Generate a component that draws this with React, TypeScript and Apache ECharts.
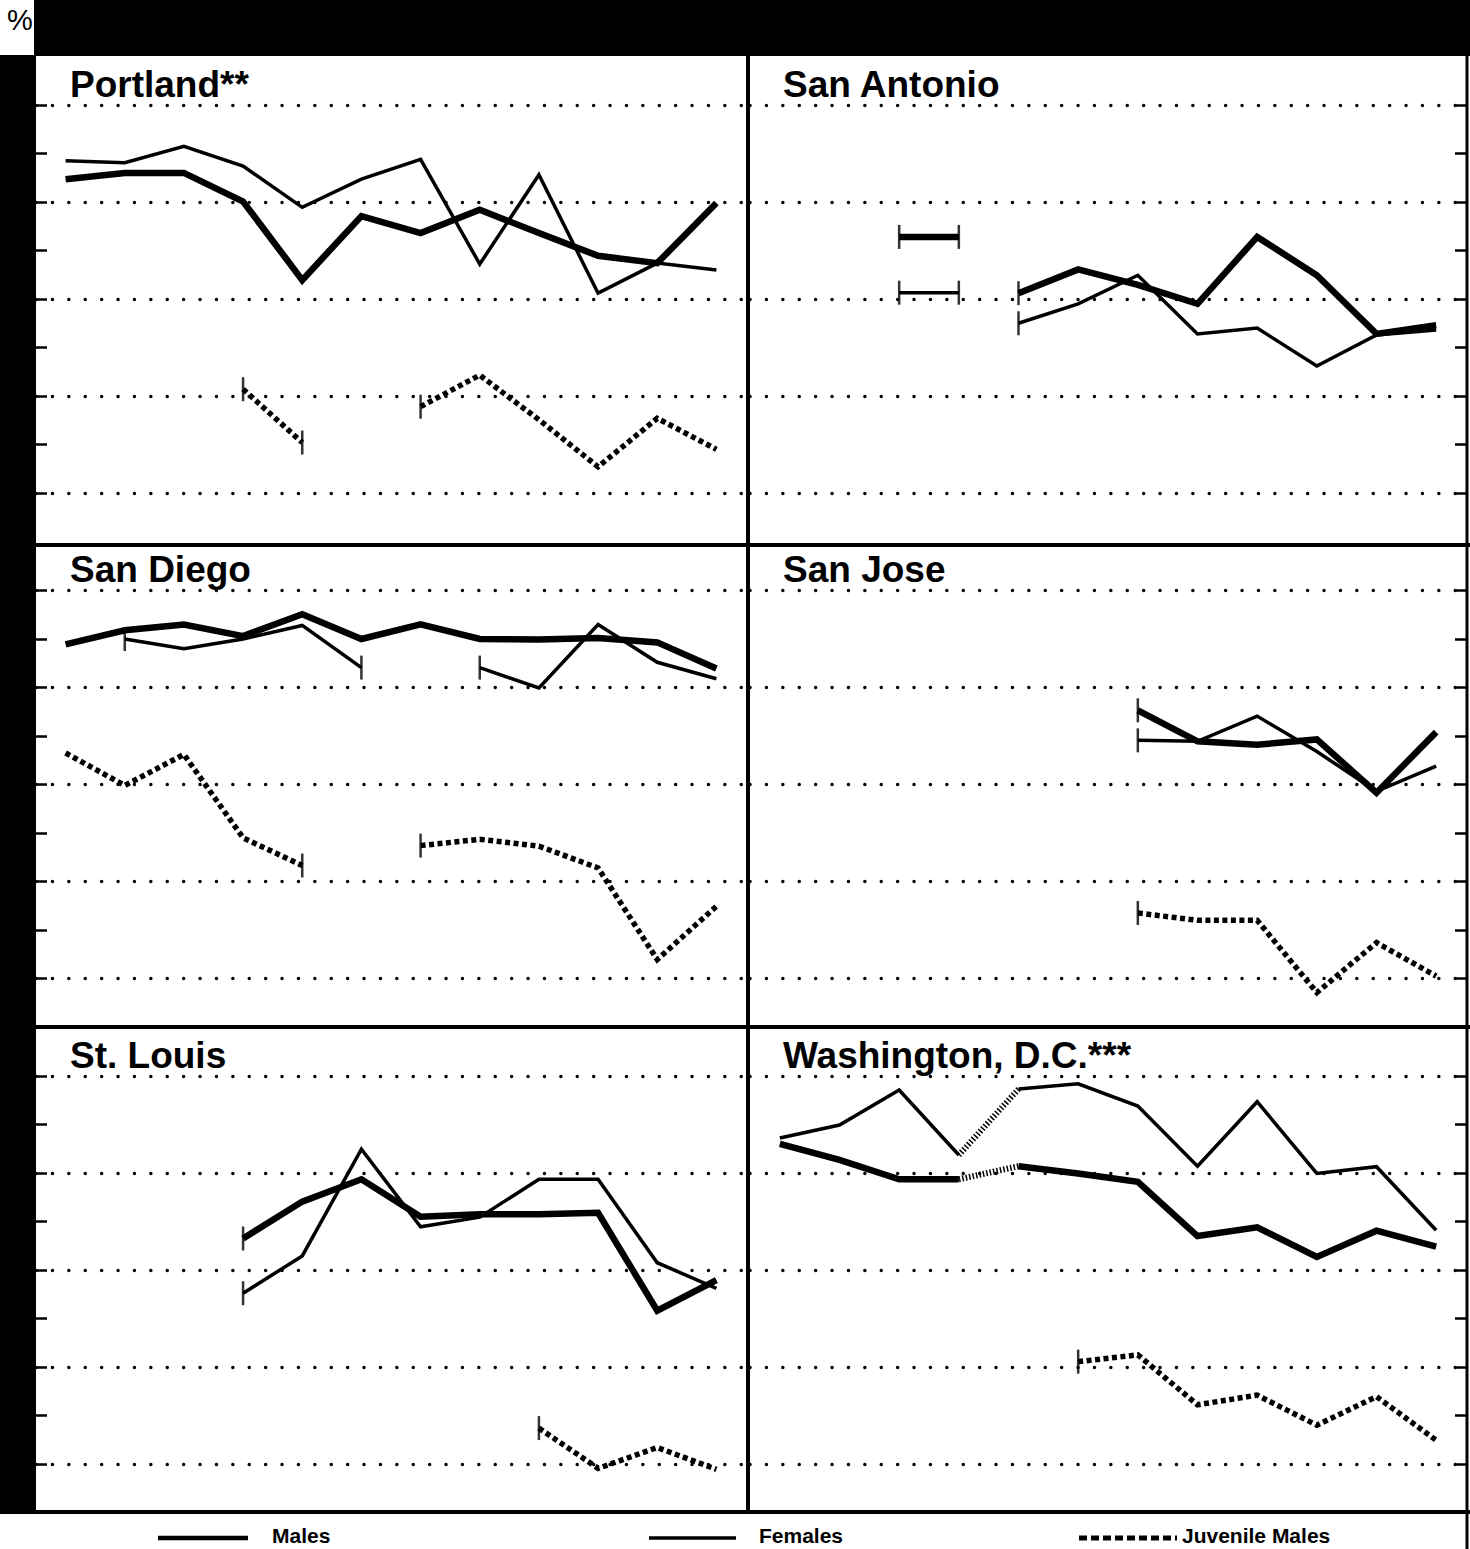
import React, { useEffect, useRef } from 'react';
import * as echarts from 'echarts';

// Twelve reporting periods per panel (labels are not printed on the chart)
const periods = ['1', '2', '3', '4', '5', '6', '7', '8', '9', '10', '11', '12'];
// Percent scale: dotted guide lines and edge ticks
const gridValues = [10, 30, 50, 70, 90];
const tickValues = [10, 20, 30, 40, 50, 60, 70, 80, 90];

type V = number | null;
const _ = null;

const portlandMales: V[] = [74.7, 76.0, 76.0, 70.1, 53.9, 67.1, 63.6, 68.4, 63.6, 58.9, 57.4, 69.8];
const portlandFemales: V[] = [78.5, 78.1, 81.5, 77.4, 68.9, 74.7, 78.8, 57.2, 75.6, 51.2, 57.4, 56.0];
const portlandJuveniles: V[] = [_, _, _, 31.4, 20.4, _, 27.8, 34.3, 25.1, 15.4, 25.4, 19.0];

const sanAntonioMalesEarly: V[] = [_, _, 62.8, 62.8, _, _, _, _, _, _, _, _];
const sanAntonioFemalesEarly: V[] = [_, _, 51.3, 51.3, _, _, _, _, _, _, _, _];
const sanAntonioMales: V[] = [_, _, _, _, 51.2, 56.1, 52.9, 49.0, 62.8, 54.9, 42.8, 44.6];
const sanAntonioFemales: V[] = [_, _, _, _, 45.0, 49.0, 54.9, 42.8, 44.0, 36.2, 42.6, 43.6];

const sanDiegoMales: V[] = [78.9, 81.8, 83.0, 80.6, 85.1, 80.0, 83.0, 80.0, 79.9, 80.2, 79.3, 73.9];
const sanDiegoFemales: V[] = [_, 80.0, 78.0, 80.0, 82.8, 74.1, _, 74.1, 69.9, 83.0, 75.2, 71.8];
const sanDiegoJuveniles: V[] = [56.5, 49.8, 56.2, 39.0, 33.3, _, 37.4, 38.7, 37.3, 32.8, 13.9, 24.9];

const sanJoseMales: V[] = [_, _, _, _, _, _, 65.3, 58.9, 58.2, 59.3, 48.3, 60.8];
const sanJoseFemales: V[] = [_, _, _, _, _, _, 59.1, 58.9, 64.1, 56.8, 48.6, 53.8];
const sanJoseJuveniles: V[] = [_, _, _, _, _, _, 23.5, 22.0, 22.0, 7.1, 17.4, 10.5];

const stLouisMales: V[] = [_, _, _, 56.5, 64.1, 68.7, 61.0, 61.5, 61.5, 61.8, 41.6, 47.9];
const stLouisFemales: V[] = [_, _, _, 45.2, 52.9, 74.9, 58.9, 60.9, 68.7, 68.7, 51.5, 46.2];
const stLouisJuveniles: V[] = [_, _, _, _, _, _, _, _, 17.4, 9.1, 13.4, 8.9];

const washingtonMales: V[] = [76.0, 72.7, 68.7, 68.7, 71.4, 69.9, 68.2, 57.0, 58.8, 52.7, 58.1, 54.8];
const washingtonFemales: V[] = [77.2, 79.9, 87.1, 73.7, 87.3, 88.4, 83.8, 71.4, 84.7, 69.9, 71.3, 58.2];
const washingtonJuveniles: V[] = [_, _, _, _, _, 31.1, 32.5, 22.2, 24.2, 18.0, 23.9, 14.9];
// The step from period 4 to period 5 is drawn hatched
const washingtonHatchAfter = 3;

type Kind = 'male' | 'female' | 'juvenile';
interface Run { kind: Kind; values: V[]; hatchAfter?: number }
interface Panel { title: string; runs: Run[] }

const panels: Panel[] = [
  { title: 'Portland**', runs: [
    { kind: 'male', values: portlandMales },
    { kind: 'female', values: portlandFemales },
    { kind: 'juvenile', values: portlandJuveniles },
  ] },
  { title: 'San Antonio', runs: [
    { kind: 'male', values: sanAntonioMalesEarly },
    { kind: 'female', values: sanAntonioFemalesEarly },
    { kind: 'male', values: sanAntonioMales },
    { kind: 'female', values: sanAntonioFemales },
  ] },
  { title: 'San Diego', runs: [
    { kind: 'male', values: sanDiegoMales },
    { kind: 'female', values: sanDiegoFemales },
    { kind: 'juvenile', values: sanDiegoJuveniles },
  ] },
  { title: 'San Jose', runs: [
    { kind: 'male', values: sanJoseMales },
    { kind: 'female', values: sanJoseFemales },
    { kind: 'juvenile', values: sanJoseJuveniles },
  ] },
  { title: 'St. Louis', runs: [
    { kind: 'male', values: stLouisMales },
    { kind: 'female', values: stLouisFemales },
    { kind: 'juvenile', values: stLouisJuveniles },
  ] },
  { title: 'Washington, D.C.***', runs: [
    { kind: 'male', values: washingtonMales, hatchAfter: washingtonHatchAfter },
    { kind: 'female', values: washingtonFemales, hatchAfter: washingtonHatchAfter },
    { kind: 'juvenile', values: washingtonJuveniles },
  ] },
];

const legendItems: { kind: Kind; label: string }[] = [
  { kind: 'male', label: 'Males' },
  { kind: 'female', label: 'Females' },
  { kind: 'juvenile', label: 'Juvenile Males' },
];

// ---- layout & styling ----
const W = 1470;
const H = 1549;
const COL_LEFT = [36, 750];
const COL_WIDTH = [710, 716];
const ROW_TOP = [56.5, 542, 1027.5];
const ROW_HEIGHT = 485;
const TITLE_X = [70, 783];
const TITLE_DY = 27.5;
const FONT = '"Liberation Sans", Arial, Helvetica, sans-serif';
const INK = '#000';

const lineStyles: Record<Kind, any> = {
  male: { color: INK, width: 6.5, type: 'solid', join: 'miter', cap: 'butt' },
  female: { color: INK, width: 3.5, type: 'solid', join: 'miter', cap: 'butt' },
  juvenile: { color: INK, width: 5.5, type: [5, 3.5], join: 'miter', cap: 'butt' },
};
const hatchStyle = { color: INK, width: 6, type: [1.5, 2], cap: 'butt' };

// End points of a broken run get a small vertical tick
function breakEnds(vals: V[]): [number, number][] {
  const out: [number, number][] = [];
  vals.forEach((v, i) => {
    if (v == null) return;
    const leftGap = i > 0 && vals[i - 1] == null;
    const rightGap = i < vals.length - 1 && vals[i + 1] == null;
    if (leftGap || rightGap) out.push([i, v]);
  });
  return out;
}

function buildOption() {
  const grid = panels.map((_p, i) => ({
    left: COL_LEFT[i % 2],
    width: COL_WIDTH[i % 2],
    top: ROW_TOP[Math.floor(i / 2)],
    height: ROW_HEIGHT,
    containLabel: false,
    outerBoundsMode: 'none',
  }));

  const xAxis = panels.map((_p, i) => ({
    type: 'category',
    gridIndex: i,
    data: periods,
    boundaryGap: true,
    axisLine: { show: false },
    axisTick: { show: false },
    axisLabel: { show: false },
    splitLine: { show: false },
  }));

  const yAxis = panels.map((_p, i) => ({
    type: 'value',
    gridIndex: i,
    min: 0,
    max: 100,
    interval: 10,
    position: i % 2 === 0 ? 'left' : 'right',
    axisLine: { show: false },
    axisLabel: { show: false },
    splitLine: { show: false },
    axisTick: {
      show: true,
      inside: true,
      length: 11,
      customValues: tickValues,
      lineStyle: { color: INK, width: 2.5 },
    },
  }));

  const series: any[] = [];
  panels.forEach((p, i) => {
    const axes = { xAxisIndex: i, yAxisIndex: i };
    // dotted guide lines
    series.push({
      type: 'line',
      ...axes,
      name: 'guides-' + i,
      data: periods.map(() => null),
      symbol: 'none',
      silent: true,
      lineStyle: { opacity: 0 },
      markLine: {
        silent: true,
        symbol: ['none', 'none'],
        label: { show: false },
        emphasis: { disabled: true },
        lineStyle: { color: INK, width: 3.4, type: [0.1, 16.3], cap: 'round' },
        data: gridValues.map((v) => ({ yAxis: v })),
      },
    });

    p.runs.forEach((run, r) => {
      const base = {
        type: 'line',
        ...axes,
        symbol: 'none',
        silent: true,
        connectNulls: false,
        lineStyle: lineStyles[run.kind],
        z: run.kind === 'male' ? 4 : 3,
      };
      if (run.hatchAfter != null) {
        const k = run.hatchAfter;
        series.push({ ...base, name: `${run.kind}-${i}-${r}a`, data: run.values.map((v, j) => (j <= k ? v : null)) });
        series.push({ ...base, name: `${run.kind}-${i}-${r}b`, data: run.values.map((v, j) => (j >= k + 1 ? v : null)) });
        series.push({
          ...base,
          name: `${run.kind}-${i}-${r}h`,
          lineStyle: hatchStyle,
          data: run.values.map((v, j) => (j === k || j === k + 1 ? v : null)),
        });
      } else {
        series.push({ ...base, name: `${run.kind}-${i}-${r}`, data: run.values });
      }
      const ends = breakEnds(run.values);
      if (ends.length) {
        series.push({
          type: 'scatter',
          ...axes,
          name: `ends-${i}-${r}`,
          silent: true,
          symbol: 'rect',
          symbolSize: [2.5, 24],
          itemStyle: { color: INK },
          z: 5,
          data: ends,
        });
      }
    });
  });

  const frame: any[] = [
    { type: 'rect', shape: { x: 0, y: 0, width: W, height: 56 }, style: { fill: INK } },
    { type: 'rect', shape: { x: 0, y: 0, width: 34, height: 55 }, style: { fill: '#fff' } },
    {
      type: 'text',
      style: { text: '%', x: 20, y: 20, fill: INK, align: 'center', verticalAlign: 'middle', font: `29px ${FONT}` },
    },
    { type: 'rect', shape: { x: 0, y: 56, width: 36, height: 1456 }, style: { fill: INK } },
    { type: 'rect', shape: { x: 746, y: 56, width: 4, height: 1456 }, style: { fill: INK } },
    { type: 'rect', shape: { x: 0, y: 543, width: W, height: 4 }, style: { fill: INK } },
    { type: 'rect', shape: { x: 0, y: 1025, width: W, height: 4 }, style: { fill: INK } },
    { type: 'rect', shape: { x: 0, y: 1510, width: W, height: 4 }, style: { fill: INK } },
    { type: 'rect', shape: { x: 1465.5, y: 56, width: 3, height: H - 56 }, style: { fill: INK } },
  ];

  const titles = panels.map((p, i) => ({
    type: 'text',
    style: {
      text: p.title,
      x: TITLE_X[i % 2],
      y: ROW_TOP[Math.floor(i / 2)] + TITLE_DY,
      fill: INK,
      align: 'left',
      verticalAlign: 'middle',
      font: `bold 37px ${FONT}`,
    },
  }));

  const legendPos = [
    { x1: 158, x2: 248, tx: 272 },
    { x1: 649, x2: 736, tx: 759 },
    { x1: 1079, x2: 1177, tx: 1182 },
  ];
  const legendY = 1535;
  const legendLine: Record<Kind, any> = {
    male: { stroke: INK, lineWidth: 4.5 },
    female: { stroke: INK, lineWidth: 3.5 },
    juvenile: { stroke: INK, lineWidth: 5, lineDash: [8, 4] },
  };
  const legend: any[] = [];
  legendItems.forEach((item, i) => {
    const pos = legendPos[i];
    legend.push({
      type: 'line',
      shape: { x1: pos.x1, y1: legendY + 3, x2: pos.x2, y2: legendY + 3 },
      style: legendLine[item.kind],
    });
    legend.push({
      type: 'text',
      style: {
        text: item.label,
        x: pos.tx,
        y: legendY,
        fill: INK,
        align: 'left',
        verticalAlign: 'middle',
        font: `bold 21px ${FONT}`,
      },
    });
  });

  return {
    animation: false,
    backgroundColor: '#fff',
    grid,
    xAxis,
    yAxis,
    series,
    graphic: [
      ...frame.map((g) => ({ ...g, z: 20, silent: true })),
      ...titles.map((g) => ({ ...g, z: 21, silent: true })),
      ...legend.map((g) => ({ ...g, z: 21, silent: true })),
    ],
  };
}

export default function App() {
  const ref = useRef<HTMLDivElement>(null);
  useEffect(() => {
    if (!ref.current) return;
    const chart = echarts.init(ref.current, undefined, { renderer: 'svg', width: W, height: H });
    chart.setOption(buildOption() as any);
    return () => chart.dispose();
  }, []);
  return (
    <div
      ref={ref}
      style={{ position: 'absolute', left: 0, top: 0, width: W, height: H, background: '#fff' }}
    />
  );
}
